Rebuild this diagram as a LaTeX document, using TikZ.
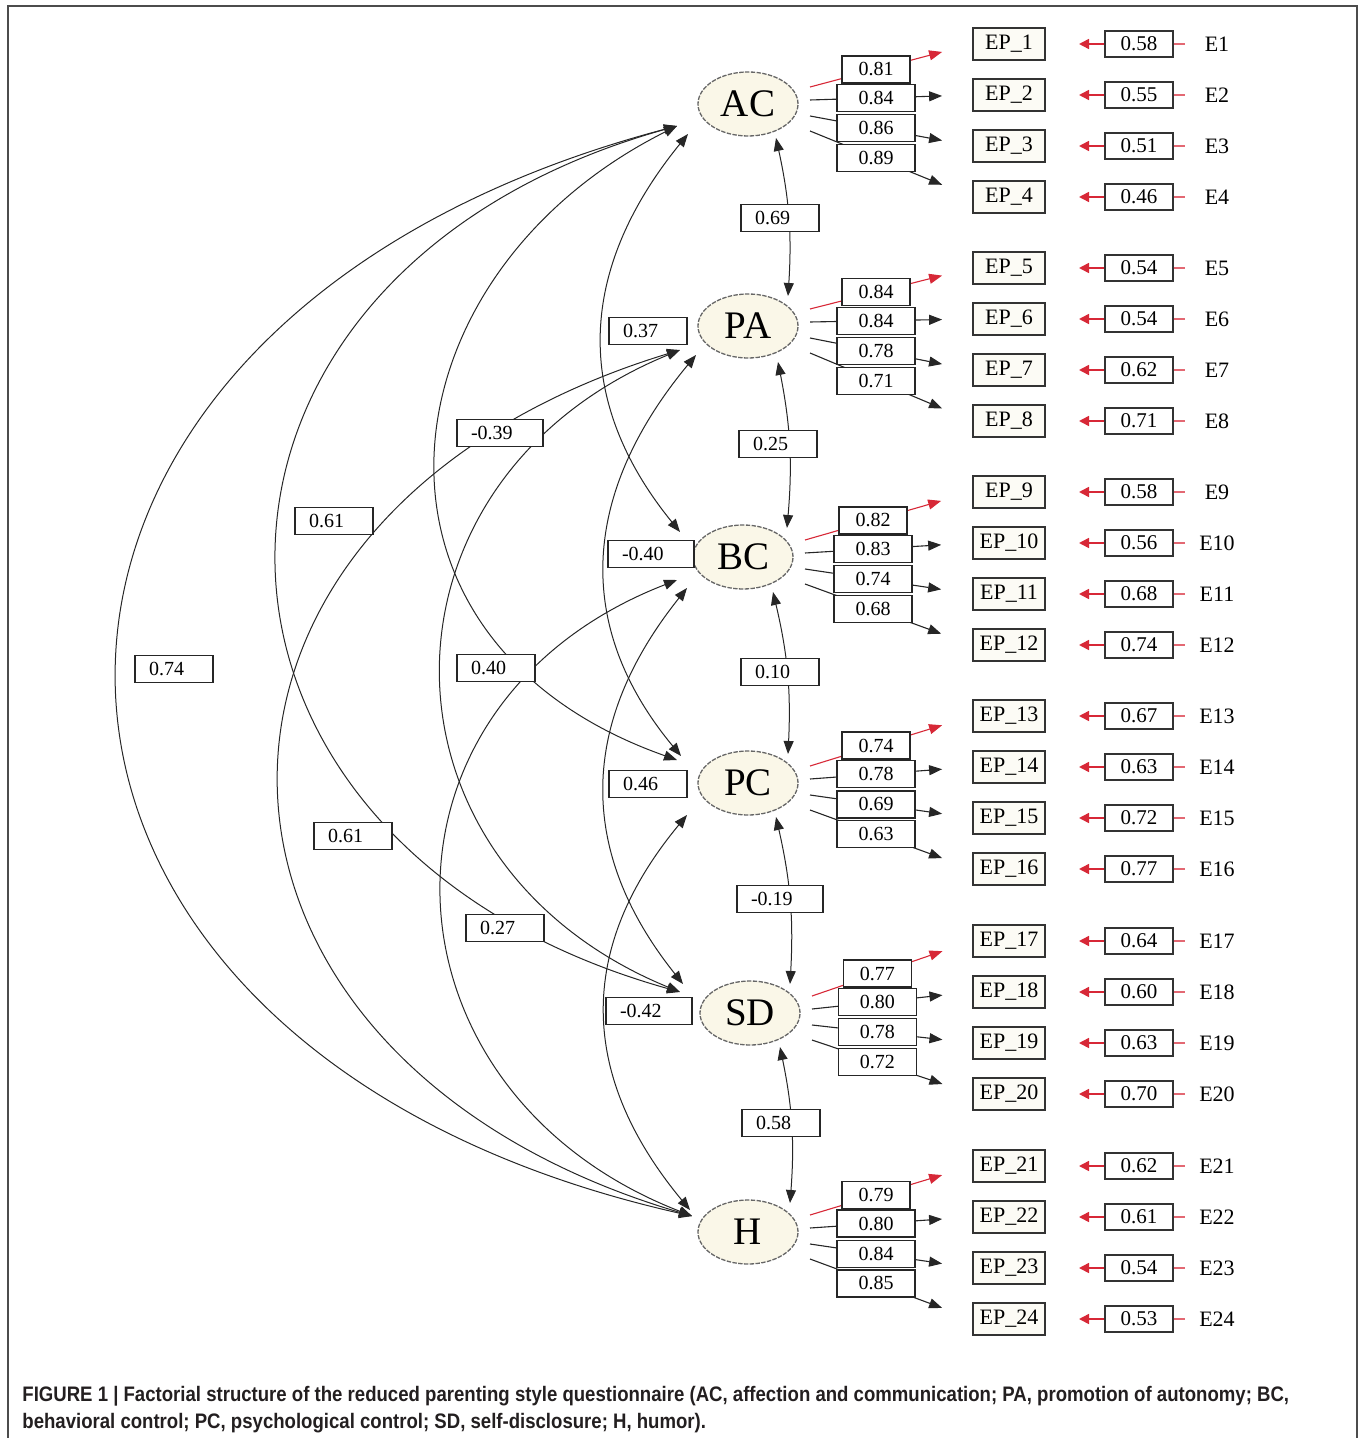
\documentclass[tikz,border=0pt]{standalone}
\usepackage{fontspec}
\setmainfont{Liberation Serif}
\newfontfamily\capfont[FakeStretch=0.885]{Liberation Sans}
\usetikzlibrary{shapes.geometric,arrows.meta,calc}
\definecolor{facfill}{RGB}{250,247,232}
\definecolor{epfill}{RGB}{252,251,245}
\definecolor{redarr}{RGB}{215,40,55}
\definecolor{capcol}{RGB}{35,31,32}
\begin{document}
\begin{tikzpicture}[x=0.5pt,y=-0.5pt,
  fac/.style={ellipse,draw=black!60,dash pattern=on 2.2pt off 0.7pt,line width=0.65pt,fill=facfill,minimum width=50pt,minimum height=32pt,inner sep=0pt,font=\fontsize{19.5}{19.5}\selectfont},
  epbox/.style={draw=black!80,line width=0.9pt,fill=epfill,minimum width=36pt,minimum height=16pt,inner sep=0pt,font=\fontsize{11}{11}\selectfont},
  errbox/.style={draw=black!80,line width=0.65pt,fill=white,minimum width=34pt,minimum height=13pt,inner sep=0pt,font=\fontsize{10.5}{10.5}\selectfont},
  elab/.style={font=\fontsize{11}{11}\selectfont,inner sep=0pt},
  ldbox/.style={draw=black!85,line width=0.65pt,fill=white,minimum width=39pt,minimum height=13.5pt,inner sep=0pt,font=\fontsize{10}{10}\selectfont},
  cvbox/.style={draw=black!85,line width=0.65pt,fill=white,text width=25pt,inner xsep=7pt,inner ysep=0pt,minimum height=13.5pt,align=left,font=\fontsize{10}{10}\selectfont},
  cvneg/.style={cvbox,text width=29pt},
  cov/.style={line width=0.5pt,draw=black!85,{Triangle[length=6.5pt,width=5pt]}-{Triangle[length=6.5pt,width=5pt]}},
  ldl/.style={line width=0.55pt,draw=black!85,-{Triangle[length=6.5pt,width=5pt]}},
  ldred/.style={line width=0.55pt,draw=redarr,-{Triangle[length=6.5pt,width=5pt]}},
  errarr/.style={line width=0.8pt,draw=redarr,-{Triangle[length=5pt,width=5pt]}},
  errtick/.style={line width=0.6pt,draw=redarr!70},
]
\useasboundingbox (0,0) rectangle (1365,1438);
% frame
\draw[black!70,line width=0.8pt] (8,1438) -- (8,6) -- (1357,6) -- (1357,1438);

% factors
\node[fac] (AC) at (748,104) {AC};
\node[fac] (PA) at (748,326) {PA};
\node[fac] (BC) at (743,557) {BC};
\node[fac] (PC) at (748,783) {PC};
\node[fac] (SD) at (750,1013) {SD};
\node[fac] (H)  at (748,1232) {H};

% indicators and errors
\foreach \i/\y/\v in {1/44/0.58,2/95/0.55,3/146/0.51,4/197/0.46,
  5/268/0.54,6/319/0.54,7/370/0.62,8/421/0.71,
  9/492/0.58,10/543/0.56,11/594/0.68,12/645/0.74,
  13/716/0.67,14/767/0.63,15/818/0.72,16/869/0.77,
  17/941/0.64,18/992/0.60,19/1043/0.63,20/1094/0.70,
  21/1166/0.62,22/1217/0.61,23/1268/0.54,24/1319/0.53}{
  \node[epbox] (EP\i) at (1009,\y) {EP\_\i};
  \node[errbox] (R\i) at (1139,\y) {\v};
  \node[elab] (E\i) at (1217,\y) {E\i};
  \coordinate (T\i) at (1079,\y);
  \coordinate (K\i) at ($(R\i.east)+(11,0)$);
  \draw[errarr] (R\i.west) -- (T\i);
  \draw[errtick] (R\i.east) -- (K\i);
}

% loadings
\foreach \f/\a/\b/\c/\d/\la/\lb/\lc/\ld in {AC/1/2/3/4/0.81/0.84/0.86/0.89,
  PA/5/6/7/8/0.84/0.84/0.78/0.71,
  BC/9/10/11/12/0.82/0.83/0.74/0.68,
  PC/13/14/15/16/0.74/0.78/0.69/0.63,
  SD/17/18/19/20/0.77/0.80/0.78/0.72,
  H/21/22/23/24/0.79/0.80/0.84/0.85}{
  \coordinate (\f-s1) at ($(\f)+(62,-17)$);
  \coordinate (\f-s2) at ($(\f)+(62,-4)$);
  \coordinate (\f-s3) at ($(\f)+(62,12)$);
  \coordinate (\f-s4) at ($(\f)+(62,27)$);
  \coordinate (\f-t1) at ($(\f-s1)!0.815!(EP\a.west)$);
  \coordinate (\f-t2) at ($(\f-s2)!0.815!(EP\b.west)$);
  \coordinate (\f-t3) at ($(\f-s3)!0.815!(EP\c.west)$);
  \coordinate (\f-t4) at ($(\f-s4)!0.815!(EP\d.west)$);
  \draw[ldred] (\f-s1) -- (\f-t1);
  \draw[ldl] (\f-s2) -- (\f-t2);
  \draw[ldl] (\f-s3) -- (\f-t3);
  \draw[ldl] (\f-s4) -- (\f-t4);
  \node[ldbox,minimum width=34pt] at ($(\f-s1)!0.5!(\f-t1)$) {\la};
  \node[ldbox] at ($(\f-s2)!0.5!(\f-t2)$) {\lb};
  \node[ldbox] at ($(\f-s3)!0.5!(\f-t3)$) {\lc};
  \node[ldbox] at ($(\f-s4)!0.5!(\f-t4)$) {\ld};
}

% covariance ports
\coordinate (AC-L)  at ($(AC)+(-71,22)$);
\coordinate (AC-L2) at ($(AC)+(-60,30)$);
\coordinate (AC-R)  at ($(AC)+(28,34)$);
\coordinate (PA-T)  at ($(PA)+(40,-30)$);
\coordinate (PA-L)  at ($(PA)+(-68,24)$);
\coordinate (PA-L2) at ($(PA)+(-52,29)$);
\coordinate (PA-R)  at ($(PA)+(30,36)$);
\coordinate (BC-T)  at ($(BC)+(44,-29)$);
\coordinate (BC-U)  at ($(BC)+(-63,-25)$);
\coordinate (BC-L)  at ($(BC)+(-66,23)$);
\coordinate (BC-L2) at ($(BC)+(-56,31)$);
\coordinate (BC-R)  at ($(BC)+(30,35)$);
\coordinate (PC-T)  at ($(PC)+(40,-29)$);
\coordinate (PC-U)  at ($(PC)+(-71,-23)$);
\coordinate (PC-U2) at ($(PC)+(-67,-27)$);
\coordinate (PC-L2) at ($(PC)+(-61,32)$);
\coordinate (PC-R)  at ($(PC)+(28,34)$);
\coordinate (SD-T)  at ($(SD)+(40,-29)$);
\coordinate (SD-U)  at ($(SD)+(-70,-21)$);
\coordinate (SD-U2) at ($(SD)+(-67,-29)$);
\coordinate (SD-R)  at ($(SD)+(30,34)$);
\coordinate (H-T)   at ($(H)+(42,-29)$);
\coordinate (H-U)   at ($(H)+(-56,-16)$);
\coordinate (H-U2)  at ($(H)+(-58,-22)$);

% left covariance arcs
\draw[cov] (AC-L) .. controls +(-755,200) and +(-755,-170) .. (H-U);
\draw[cov] (AC-L) .. controls +(-534,150) and +(-534,-150) .. (SD-U);
\draw[cov] (PA-L) .. controls +(-541,165) and +(-541,-160) .. (H-U);
\draw[cov] (AC-L) .. controls +(-300,150) and +(-340,-120) .. (PC-U);
\draw[cov] (PA-L) .. controls +(-317,130) and +(-317,-130) .. (SD-U);
\draw[cov] (BC-L) .. controls +(-322,125) and +(-322,-125) .. (H-U);
\draw[cov] (AC-L2) .. controls +(-109,134) and +(-109,-134) .. (BC-U);
\draw[cov] (PA-L2) .. controls +(-111,134) and +(-111,-134) .. (PC-U2);
\draw[cov] (BC-L2) .. controls +(-107,134) and +(-107,-134) .. (SD-U2);
\draw[cov] (PC-L2) .. controls +(-111,134) and +(-111,-134) .. (H-U2);
% right covariance arcs
\draw[cov] (AC-R) to[bend left=8] (PA-T);
\draw[cov] (PA-R) to[bend left=8] (BC-T);
\draw[cov] (BC-R) to[bend left=8] (PC-T);
\draw[cov] (PC-R) to[bend left=8] (SD-T);
\draw[cov] (SD-R) to[bend left=8] (H-T);

% covariance labels
\node[cvbox] (c1) at (174,669) {0.74};
\node[cvbox] (c2) at (334,521) {0.61};
\node[cvbox] (c3) at (353,836) {0.61};
\node[cvneg] (c4) at (500,433) {-0.39};
\node[cvbox] (c5) at (496,668) {0.40};
\node[cvbox] (c6) at (505,928) {0.27};
\node[cvbox] (c7) at (648,331) {0.37};
\node[cvneg] (c8) at (651,554) {-0.40};
\node[cvbox] (c9) at (648,784) {0.46};
\node[cvneg] (c10) at (649,1011) {-0.42};
\node[cvbox] (c11) at (780,218) {0.69};
\node[cvbox] (c12) at (778,444) {0.25};
\node[cvbox] (c13) at (780,672) {0.10};
\node[cvneg] (c14) at (780,899) {-0.19};
\node[cvbox] (c15) at (781,1123) {0.58};

% caption
\node[anchor=base west,inner sep=0pt,text=capcol,font=\capfont\bfseries\fontsize{10.5}{13}\selectfont] (cap1) at (22,1401) {FIGURE 1 | Factorial structure of the reduced parenting style questionnaire (AC, affection and communication; PA, promotion of autonomy; BC,};
\node[anchor=base west,inner sep=0pt,text=capcol,font=\capfont\bfseries\fontsize{10.5}{13}\selectfont] (cap2) at (22,1428) {behavioral control; PC, psychological control; SD, self-disclosure; H, humor).};
\end{tikzpicture}
\end{document}
